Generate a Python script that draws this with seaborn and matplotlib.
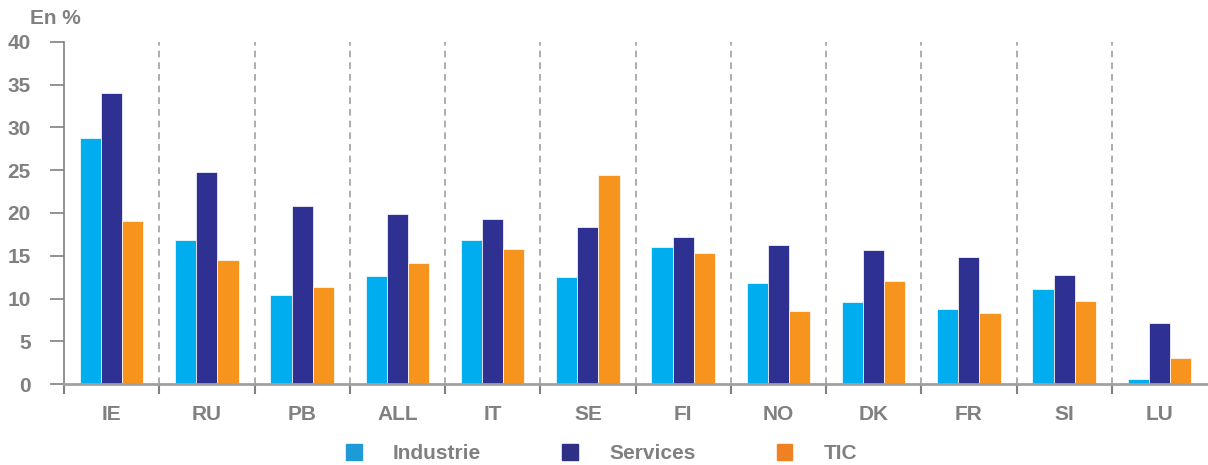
import matplotlib
matplotlib.use('Agg')

import pandas as pd
import numpy as np
import matplotlib.pyplot as plt
import matplotlib.patches as mpatches
import seaborn as sns

# data
pays = ['IE', 'RU', 'PB', 'ALL', 'IT', 'SE', 'FI', 'NO', 'DK', 'FR', 'SI', 'LU']
industrie = [28.8, 16.9, 10.4, 12.6, 16.9, 12.5, 16.0, 11.8, 9.6, 8.8, 11.1, 0.6]
services = [34.0, 24.8, 20.8, 19.9, 19.3, 18.4, 17.2, 16.3, 15.7, 14.8, 12.8, 7.1]
tic = [19.1, 14.5, 11.4, 14.1, 15.8, 24.4, 15.3, 8.5, 12.1, 8.3, 9.7, 3.0]
series = ['Industrie', 'Services', 'TIC']
couleurs = ['#00AEEF', '#2E3192', '#F7941D']
couleurs_legende = ['#1E9BD7', '#2E3087', '#F08122']

gris = '#808080'
taille = 15

if __name__ == "__main__":
	df = pd.DataFrame({'pays': pays, 'Industrie': industrie, 'Services': services, 'TIC': tic})
	long_df = df.melt(id_vars='pays', value_vars=series, var_name='serie', value_name='valeur')

	sns.set_style('white')
	plt.rcParams['font.family'] = ['Liberation Sans', 'DejaVu Sans']
	plt.rcParams['font.weight'] = 'bold'

	fig = plt.figure(figsize=(12.08, 4.65), dpi=100)
	ax = fig.add_axes([64 / 1208, 81 / 465, 1143 / 1208, 342 / 465])

	sns.barplot(data=long_df, x='pays', y='valeur', hue='serie', order=pays,
				hue_order=series, palette=couleurs, width=0.667, gap=0,
				edgecolor='#ffffff', linewidth=0.5, saturation=1, ax=ax)
	ax.get_legend().remove()

	ax.set_xlim(-0.5, len(pays) - 0.5)
	ax.set_ylim(0, 40)
	ax.set_yticks(range(0, 41, 5))
	ax.set_xlabel('')
	ax.set_ylabel('')

	# dashed separators between countries
	for i in range(len(pays) - 1):
		ax.axvline(i + 0.5, color='#A0A0A0', linestyle=(0, (4, 3)), linewidth=1.2, zorder=0)

	for s in ['top', 'right']:
		ax.spines[s].set_visible(False)
	ax.spines['left'].set_color(gris)
	ax.spines['left'].set_linewidth(1.2)
	ax.spines['bottom'].set_color('#A0A0A0')
	ax.spines['bottom'].set_linewidth(2)

	ax.tick_params(axis='y', which='major', direction='out', length=10, width=1.2,
				   color=gris, labelcolor=gris, labelsize=taille, pad=14, left=True)
	ax.tick_params(axis='x', which='major', length=0, labelcolor=gris, labelsize=taille, pad=15)
	ax.set_xticks(np.arange(-0.5, len(pays) - 0.5, 1), minor=True)
	ax.tick_params(axis='x', which='minor', direction='out', length=7, width=1.5,
				   color=gris, bottom=True)
	for lab in ax.get_xticklabels() + ax.get_yticklabels():
		lab.set_fontweight('bold')

	fig.text(30 / 1208, 1 - 18 / 465, 'En %', color=gris, fontsize=taille,
			 fontweight='bold', va='center', ha='left')

	handles = [mpatches.Patch(color=c, label=l) for c, l in zip(couleurs_legende, series)]
	leg = fig.legend(handles=handles, loc='center', bbox_to_anchor=(0.498, 0.024),
					 ncol=3, frameon=False, fontsize=taille, handlelength=0.75,
					 handleheight=0.75, handletextpad=1.5, columnspacing=3.9)
	for t in leg.get_texts():
		t.set_color(gris)
		t.set_fontweight('bold')

	fig.savefig('out.png', dpi=100)
